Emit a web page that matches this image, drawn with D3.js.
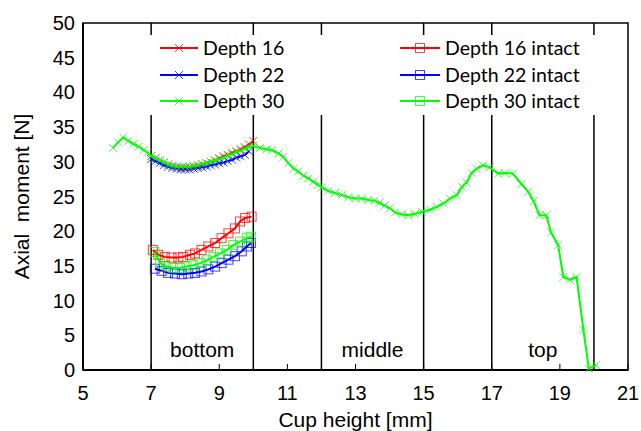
<!DOCTYPE html>
<html><head><meta charset="utf-8">
<script src="https://cdn.jsdelivr.net/npm/d3@7"></script>
<style>body{margin:0;background:#fff}svg{display:block}</style>
</head><body>
<script>
// ---- data ----
const xBottom = [7.0,7.125,7.25,7.375,7.5,7.625,7.75,7.875,8.0,8.125,8.25,8.375,8.5,8.625,8.75,8.875,9.0,9.125,9.25,9.375,9.5,9.625,9.75,9.875,10.0];
const depth16 = [30.8,30.5,30.2,29.9,29.6,29.4,29.2,29.1,29.1,29.2,29.3,29.4,29.6,29.8,30.0,30.2,30.5,30.8,31.0,31.3,31.5,31.8,32.1,32.5,33.0];
const depth22 = [30.4,30.1,29.8,29.5,29.3,29.1,29.0,28.9,28.9,28.9,29.0,29.1,29.2,29.3,29.5,29.6,29.8,29.9,30.1,30.3,30.6,30.8,31.0,31.5];
const depth30Bottom = [30.8,30.5,30.2,29.9,29.6,29.4,29.3,29.3,29.3,29.3,29.4,29.5,29.7,29.8,30.0,30.2,30.4,30.6,30.9,31.1,31.4,31.6,31.9,32.1,32.3];
const xDepth30Pre = [5.88,6.03,6.18,6.33,6.48,6.63,6.78,6.9];
const depth30Pre = [32.0,32.8,33.5,33.0,32.6,32.2,31.7,31.3];
const xDepth30Post = [10.2,10.39,10.54,10.74,10.88,11.03,11.18,11.32,11.47,11.62,11.76,11.9,12.01,12.2,12.4,12.6,12.79,12.99,13.18,13.38,13.55,13.7,13.85,14.01,14.16,14.36,14.55,14.75,14.95,15.19,15.38,15.58,15.77,15.97,16.12,16.26,16.41,16.55,16.74,16.94,17.19,17.38,17.62,17.87,18.07,18.23,18.4,18.6,18.74,18.95,19.1,19.29,19.49,19.69,19.85,20.06];
const depth30Post = [32.0,31.8,31.7,31.2,30.7,29.8,29.0,28.6,28.0,27.6,27.1,26.7,26.3,25.8,25.5,25.2,24.9,24.7,24.7,24.5,24.4,24.1,23.7,23.3,22.7,22.4,22.3,22.5,22.8,23.1,23.5,24.0,24.7,25.2,26.4,27.0,28.4,29.0,29.5,29.2,28.3,28.4,28.3,26.8,25.7,24.3,22.3,22.3,19.8,18.0,13.4,13.0,13.4,5.8,0.2,0.7];
const xIntact16 = [7.05,7.21,7.4,7.6,7.8,7.94,8.14,8.29,8.48,8.68,8.88,9.07,9.27,9.46,9.61,9.76,9.95];
const intact16 = [17.3,16.6,16.3,16.2,16.2,16.3,16.6,16.8,17.3,17.8,18.3,19.0,19.7,20.4,21.4,21.9,22.1];
const xIntact22 = [7.11,7.31,7.5,7.7,7.9,8.09,8.29,8.48,8.68,8.88,9.07,9.27,9.46,9.66,9.81,9.93];
const intact22 = [14.6,14.3,14.0,13.9,13.8,13.9,14.0,14.2,14.5,14.9,15.4,15.9,16.4,17.1,17.8,18.3];
const xIntact30 = [7.1,7.26,7.45,7.65,7.85,8.04,8.24,8.44,8.63,8.83,9.02,9.22,9.41,9.61,9.81,9.93];
const intact30 = [17.0,15.4,14.9,14.7,14.7,14.9,15.1,15.4,15.8,16.3,16.8,17.3,18.0,18.5,19.0,19.2];
const xTicks = [5,7,9,11,13,15,17,19,21];
const yTicks = [0,5,10,15,20,25,30,35,40,45,50];
const regionLines = [7,10,12,15,17,20];
const regionNames = ["bottom","middle","top"];
const regionCenters = [8.5,13.5,18.5];
const seriesNames = ["Depth 16","Depth 22","Depth 30","Depth 16 intact","Depth 22 intact","Depth 30 intact"];
const seriesColors = ["#ff0000","#0000ff","#00ff00","#ff0000","#0000ff","#00ff00"];

// ---- build ----
const W = 641, H = 431;
const m = {left:83, right:13, top:23, bottom:61};
const svg = d3.select("body").append("svg").attr("width",W).attr("height",H);
const x = d3.scaleLinear().domain([5,21]).range([m.left, W-m.right]);
const y = d3.scaleLinear().domain([0,50]).range([H-m.bottom, m.top]);
const zip = (xs, ys) => ys.map((v,i)=>({x:xs[i], y:v}));

const series = [
  {name:seriesNames[0], color:seriesColors[0], marker:"x", pts:zip(xBottom, depth16)},
  {name:seriesNames[1], color:seriesColors[1], marker:"x", pts:zip(xBottom, depth22)},
  {name:seriesNames[2], color:seriesColors[2], marker:"x", pts:zip(xDepth30Pre, depth30Pre).concat(zip(xBottom, depth30Bottom), zip(xDepth30Post, depth30Post))},
  {name:seriesNames[3], color:seriesColors[3], marker:"sq", pts:zip(xIntact16, intact16)},
  {name:seriesNames[4], color:seriesColors[4], marker:"sq", pts:zip(xIntact22, intact22)},
  {name:seriesNames[5], color:seriesColors[5], marker:"sq", pts:zip(xIntact30, intact30)}
];

const font = "'Liberation Sans', Arial, sans-serif";
const legFont = "Lato, 'Open Sans', sans-serif";

// region lines
svg.append("g").selectAll("line").data(regionLines).join("line")
  .attr("x1",d=>x(d)).attr("x2",d=>x(d)).attr("y1",y(0)).attr("y2",y(50))
  .attr("stroke","#000").attr("stroke-width",1.5);

// minor bottom ticks
svg.append("g").selectAll("line").data(xTicks).join("line")
  .attr("x1",d=>x(d)).attr("x2",d=>x(d)).attr("y1",y(0)).attr("y2",y(0)-6)
  .attr("stroke","#000").attr("stroke-width",1);

// frame
svg.append("rect").attr("x",x(5)).attr("y",y(50)).attr("width",x(21)-x(5)).attr("height",y(0)-y(50))
  .attr("fill","none").attr("stroke","#000").attr("stroke-width",1.5);
svg.append("line").attr("x1",x(5)).attr("x2",x(5)).attr("y1",y(0)).attr("y2",y(50)).attr("stroke","#000").attr("stroke-width",2);
svg.append("line").attr("x1",x(5)).attr("x2",x(21)).attr("y1",y(0)).attr("y2",y(0)).attr("stroke","#000").attr("stroke-width",2);

// legend box
svg.append("rect").attr("x",140).attr("y",35).attr("width",472).attr("height",80).attr("fill","#fff");

// tick labels
svg.append("g").selectAll("text").data(xTicks).join("text")
  .attr("x",d=>x(d)).attr("y",y(0)+30).attr("text-anchor","middle")
  .attr("font-family",font).attr("font-size",20).text(d=>d);
svg.append("g").selectAll("text").data(yTicks).join("text")
  .attr("x",x(5)-8).attr("y",d=>y(d)+7).attr("text-anchor","end")
  .attr("font-family",font).attr("font-size",20).text(d=>d);

// region labels
svg.append("g").selectAll("text").data(regionNames).join("text")
  .attr("x",(d,i)=>x(regionCenters[i])).attr("y",y(0)-13).attr("text-anchor","middle")
  .attr("font-family",font).attr("font-size",21).text(d=>d);

// titles
svg.append("text").attr("x",(x(5)+x(21))/2).attr("y",H-4).attr("text-anchor","middle")
  .attr("font-family",font).attr("font-size",21).text("Cup height [mm]");
svg.append("text").attr("transform",`translate(29,${(y(0)+y(50))/2}) rotate(-90)`).attr("text-anchor","middle")
  .attr("font-family",font).attr("font-size",21).style("white-space","pre").text("Axial  moment [N]");

// markers
function drawMarker(g, type, cx, cy, color){
  if(type==="x"){
    const s=4;
    g.append("path").attr("d",`M${cx-s},${cy-s}L${cx+s},${cy+s}M${cx-s},${cy+s}L${cx+s},${cy-s}`)
      .attr("stroke",color).attr("stroke-width",1).attr("stroke-opacity",0.75).attr("fill","none");
  } else {
    const s=4.5;
    g.append("rect").attr("x",cx-s).attr("y",cy-s).attr("width",2*s).attr("height",2*s)
      .attr("fill","none").attr("stroke",color).attr("stroke-width",1).attr("stroke-opacity",0.75);
  }
}
const line = d3.line().x(d=>x(d.x)).y(d=>y(d.y));
series.forEach(s=>{
  const g = svg.append("g");
  g.append("path").datum(s.pts).attr("d",line).attr("fill","none").attr("stroke",s.color).attr("stroke-width",2);
  s.pts.forEach(p=>drawMarker(g, s.marker, x(p.x), y(p.y), s.color));
});

// legend
const legRows = [48,75,101];
series.forEach((s,i)=>{
  const col = i<3 ? 0 : 1;
  const ly = legRows[i%3];
  const x0 = col===0 ? 160 : 400, x1 = col===0 ? 198 : 440;
  const g = svg.append("g");
  g.append("line").attr("x1",x0).attr("x2",x1).attr("y1",ly).attr("y2",ly).attr("stroke",s.color).attr("stroke-width",2);
  drawMarker(g, s.marker, (x0+x1)/2, ly, s.color);
  g.append("text").attr("x",x1+5).attr("y",ly+7).attr("font-family",legFont).attr("font-size",19.5).text(s.name);
});
</script>
</body></html>
